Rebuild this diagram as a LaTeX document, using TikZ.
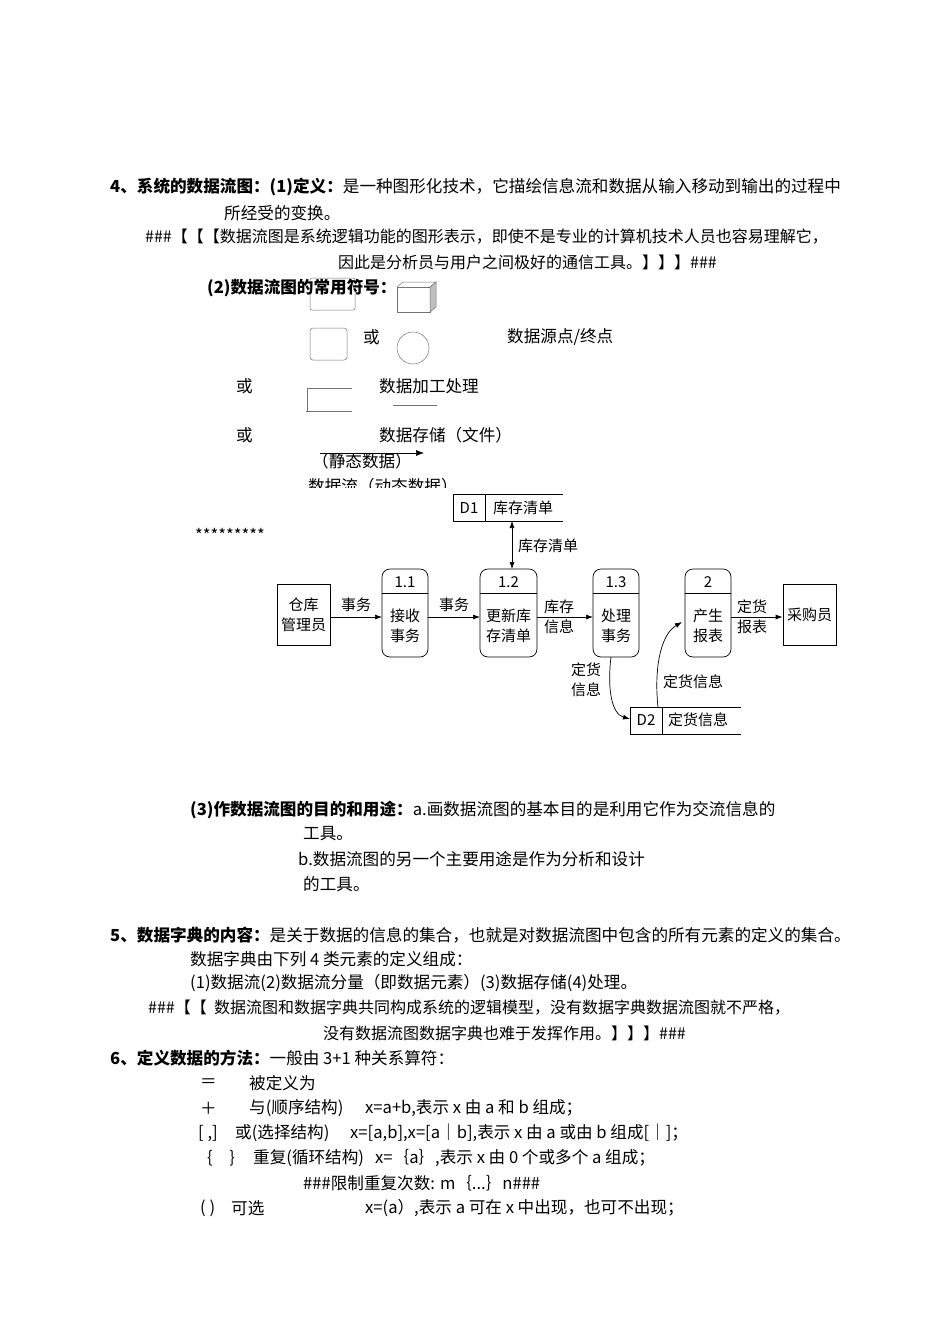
\documentclass[tikz,border=0pt]{standalone}
\usepackage{fontspec}
\setmainfont{Noto Sans CJK SC}
\usetikzlibrary{arrows.meta}
\begin{document}
\begin{tikzpicture}[x=1pt,y=-1pt,
  txt/.style={anchor=west,inner sep=0pt,font=\fontsize{16.6}{18}\selectfont},
  btxt/.style={txt,font=\fontsize{16.6}{18}\selectfont\bfseries},
  itxt/.style={txt,font=\fontsize{16}{18}\selectfont\itshape},
  sym/.style={draw=black!55,line width=0.5pt},
  box/.style={draw,line width=0.7pt},
  lab/.style={inner sep=0pt,align=center,font=\fontsize{15}{20}\selectfont},
  arr/.style={-{Latex[length=7pt,width=5pt]},line width=0.7pt}]
\useasboundingbox (0,0) rectangle (950,1344);
% section 4
\node[txt] (l1) at (110,187) {\textbf{4、系统的数据流图：\textit{(1)定义：}}是一种图形化技术，它描绘信息流和数据从输入移动到输出的过程中};
\node[txt] (l2) at (224,213) {所经受的变换。};
\node[itxt] (l3) at (145,237) {\textup{\#\#\#【【【}数据流图是系统逻辑功能的图形表示，即使不是专业的计算机技术人员也容易理解它，};
\node[itxt] (l4) at (338,262) {因此是分析员与用户之间极好的通信工具。\textup{】】】\#\#\#}};
% symbols
\draw[sym,rounded corners=2pt] (310,278) rectangle (355,310);
\node[btxt,font=\fontsize{16.6}{18}\selectfont\bfseries\itshape] (l5) at (207,288) {(2)数据流图的常用符号：};
\draw[sym] (397,287) rectangle (430,312);
\draw[sym] (397,287) -- (403,282) -- (436,282) -- (430,287);
\draw[sym,fill=black!25] (430,287) -- (436,282) -- (436,307) -- (430,312) -- cycle;
\draw[sym,rounded corners=3pt] (310,328) rectangle (347,360);
\node[txt] (or1) at (363,337) {或};
\draw[sym] (413,348) circle (16);
\node[txt] (s1) at (507,337) {数据源点/终点};
\node[txt] (or2) at (236,386) {或};
\node[txt] (s2) at (379,386) {数据加工处理};
\draw[sym] (352,388) -- (307,388) -- (307,411);
\draw[sym] (306,411) -- (352,411);
\draw[sym] (393,405) -- (437,405);
\node[txt] (or3) at (236,435) {或};
\node[txt] (s3) at (379,435) {数据存储（文件）};
\coordinate (fa) at (320,453); \coordinate (fb) at (424,453);
\draw[-{Latex[length=8pt,width=6pt]},line width=0.5pt] (fa) -- (fb);
\node[txt] (s4) at (312,461) {（静态数据）};
\node[txt] (s5) at (308,486) {数据流（动态数据）};
\fill[white] (300,488) rectangle (500,500);
\node[txt] (stars) at (195,535) {*********};
% DFD
\node[box,minimum width=53pt,minimum height=61pt,inner sep=0pt,lab] (ck) at (303.5,614.5) {仓库\\管理员};
\node[box,minimum width=53pt,minimum height=61pt,inner sep=0pt,lab] (cg) at (809.5,614.5) {采购员};
\foreach \n/\xa/\xb/\num/\t in {p11/382/428/1.1/接收\\事务, p12/480/537/1.2/更新库\\存清单, p13/593/639/1.3/处理\\事务, p2/685/731/2/产生\\报表}{
  \draw[box,rounded corners=8pt] (\xa,569) rectangle (\xb,657);
  \draw[line width=0.7pt] (\xa,593) -- (\xb,593);
  \node[lab] at ({(\xa+\xb)/2},582) {\num};
  \node[lab] (\n) at ({(\xa+\xb)/2},626) {\t};
  \coordinate (\n W) at (\xa,617); \coordinate (\n E) at (\xb,617);
}
\draw[arr] (ck.east|-p11W) -- node[lab,above=5pt] {事务} (p11W);
\draw[arr] (p11E) -- node[lab,above=5pt] {事务} (p12W);
\draw[arr] (p12E) -- (p13W);
\node[lab] at (559,617) {库存\\信息};
\draw[arr] (p2E) -- (cg.west|-p2E);
\node[lab] at (752,617) {定货\\报表};
% D1
\draw[box] (538,494) -- (453,494) -- (453,521) -- (563,521);
\draw[box] (538,494) -- (563,494);
\draw[box] (485,494) -- (485,521);
\node[lab] (d1) at (469,508) {D1};
\node[lab] (d1t) at (523,508) {库存清单};
\coordinate (d1b) at (512,521); \coordinate (p12t) at (512,569);
\draw[arr,{Latex[length=7pt,width=5pt]}-{Latex[length=7pt,width=5pt]}] (d1b) -- (p12t);
\node[lab] at (548,546) {库存清单};
% D2
\draw[box] (741,707) -- (630,707) -- (630,734) -- (741,734);
\draw[box] (662,707) -- (662,734);
\node[lab] (d2) at (646,720) {D2};
\node[lab] (d2t) at (698,720) {定货信息};
\coordinate (p13b) at (611,657); \coordinate (d2w) at (630,719);
\draw[arr] (p13b) .. controls (607,690) and (612,714) .. (d2w);
\node[lab] at (586,680) {定货\\信息};
\coordinate (d2top) at (658,707); \coordinate (p2w) at (682,622);
\draw[arr] (d2top) .. controls (654,670) and (660,635) .. (p2w);
\node[lab] at (693,682) {定货信息};
% section 3
\node[txt] (m1) at (190,810) {\textbf{\textit{(3)作数据流图的目的和用途：}}a.画数据流图的基本目的是利用它作为交流信息的};
\node[txt] (m2) at (303,834) {工具。};
\node[txt] (m3) at (298,859) {b.数据流图的另一个主要用途是作为分析和设计};
\node[txt] (m4) at (303,884) {的工具。};
% section 5
\node[txt] (n1) at (110,935) {\textbf{5、数据字典的内容：}是关于数据的信息的集合，也就是对数据流图中包含的所有元素的定义的集合。};
\node[txt] (n2) at (190,959) {数据字典由下列 4 类元素的定义组成：};
\node[txt] (n3) at (190,983) {(1)数据流(2)数据流分量（即数据元素）(3)数据存储(4)处理。};
\node[itxt] (n4) at (148,1008) {\textup{\#\#\#【【}\ \ 数据流图和数据字典共同构成系统的逻辑模型，没有数据字典数据流图就不严格，};
\node[itxt] (n5) at (323,1033) {没有数据流图数据字典也难于发挥作用。\textup{】】】\#\#\#}};
% section 6
\node[txt] (o1) at (110,1058) {\textbf{6、定义数据的方法：}一般由 3+1 种关系算符：};
\node[txt] at (200,1083) {＝}; \node[txt] at (249,1083) {被定义为};
\node[txt] at (200,1108) {＋}; \node[txt] at (249,1108) {与(顺序结构)};
\node[txt] at (365,1108) {x=a+b,表示 x 由 a 和 b 组成；};
\node[txt] at (198,1133) {[ ,]}; \node[txt] at (235,1133) {或(选择结构)};
\node[txt] at (350,1133) {x=[a,b],x=[a｜b],表示 x 由 a 或由 b 组成[｜]；};
\node[txt] at (196,1158) {｛　｝}; \node[txt] at (253,1158) {重复(循环结构)};
\node[txt] at (375,1158) {x=｛a｝,表示 x 由 0 个或多个 a 组成；};
\node[txt] at (303,1183) {\#\#\#限制重复次数: m｛...｝n\#\#\#};
\node[txt] at (200,1208) {( )}; \node[txt] at (231,1208) {可选};
\node[txt] at (365,1208) {x=(a）,表示 a 可在 x 中出现，也可不出现；};
\end{tikzpicture}
\end{document}
